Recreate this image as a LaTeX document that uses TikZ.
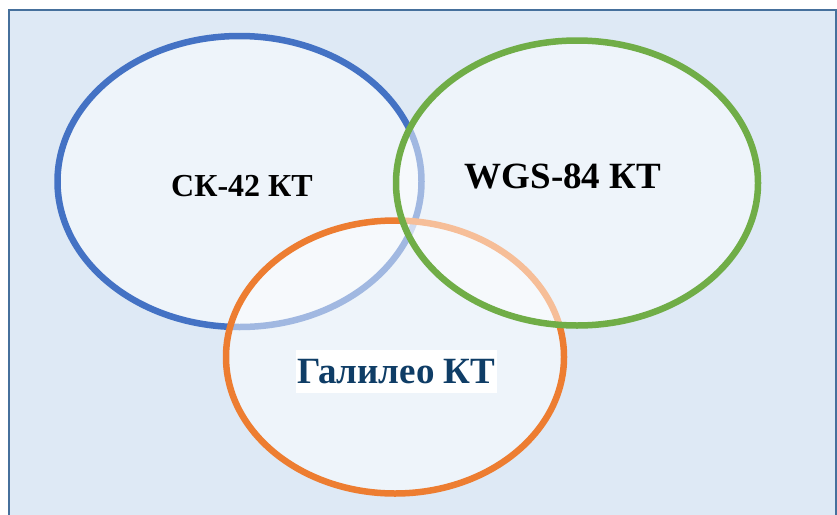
\documentclass[tikz,border=0pt]{standalone}
\usepackage{fontspec}
\setmainfont{Liberation Serif}
\usetikzlibrary{shapes.geometric}
\definecolor{bgfill}{HTML}{DEE9F5}
\definecolor{frame}{HTML}{46709C}
\definecolor{cblue}{HTML}{4472C4}
\definecolor{corange}{HTML}{ED7D31}
\definecolor{cgreen}{HTML}{70AD47}
\definecolor{ctext}{HTML}{0F3D66}
\tikzset{
  venn/.style={ellipse, line width=6.5pt, fill=white, fill opacity=0.5, draw opacity=1, inner sep=0pt, outer sep=0pt},
  lbl/.style={font=\bfseries, text=black, inner sep=0pt}
}
\begin{document}
\begin{tikzpicture}[x=1pt,y=-1pt]
\useasboundingbox (0,0) rectangle (837,514);
\clip (0,0) rectangle (837,514);
\draw[frame, fill=bgfill, line width=2.6pt] (9,10) rectangle (836,530);
\node[venn, draw=cblue, minimum width=364pt, minimum height=291pt] (sk) at (239.5,181.5) {};
\node[venn, draw=corange, minimum width=338pt, minimum height=273pt] (gal) at (395,357) {};
\node[venn, draw=cgreen, minimum width=362pt, minimum height=285pt] (wgs) at (577,183) {};
\node[lbl, font=\fontsize{32}{32}\selectfont\bfseries] (tsk) at (242,186) {СК-42 КТ};
\node[lbl, font=\fontsize{37}{37}\selectfont\bfseries] (twgs) at (563,176) {WGS-84 КТ};
\node[lbl, fill=white, text=ctext, font=\fontsize{37}{37}\selectfont\bfseries, inner xsep=2pt, minimum height=43pt] (tgal) at (396.5,371.5) {Галилео КТ};
\end{tikzpicture}
\end{document}
